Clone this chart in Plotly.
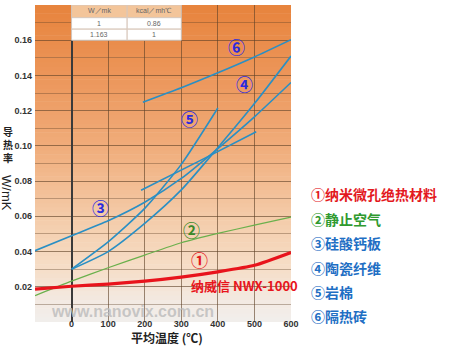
import numpy as np
import plotly.graph_objects as go

# ---------------- data ----------------
temps = [-100, 0, 100, 200, 300, 400, 500, 600]
nano_k = [0.0187, 0.0203, 0.0215, 0.0232, 0.0255, 0.0285, 0.0322, 0.0395]
air_k = [0.0150, 0.0232, 0.0308, 0.0380, 0.0450, 0.0503, 0.0550, 0.0596]
calsil_k = [0.0405, 0.0490, 0.0575, 0.0680, 0.0815, 0.0985, 0.1165, 0.1360]

cer_a_t = [0, 100, 200, 300, 400, 500, 600]
cer_a_k = [0.0300, 0.0400, 0.0560, 0.0750, 0.0990, 0.1240, 0.1510]
cer_b_t = [190, 350, 505]
cer_b_k = [0.0748, 0.0915, 0.1080]

rock_t = [0, 100, 200, 300, 400]
rock_k = [0.0300, 0.0455, 0.0645, 0.0895, 0.1215]

brick_t = [195, 300, 400, 500, 600]
brick_k = [0.1248, 0.1330, 0.1415, 0.1505, 0.1603]

x_ticks = [0, 100, 200, 300, 400, 500, 600]
y_ticks = [0.02, 0.04, 0.06, 0.08, 0.10, 0.12, 0.14, 0.16]

legend_items = ["①纳米微孔绝热材料", "②静止空气", "③硅酸钙板", "④陶瓷纤维", "⑤岩棉", "⑥隔热砖"]
legend_colors = ["#e3191e", "#2f9a2f", "#1f6fc4", "#1f6fc4", "#1f6fc4", "#1f6fc4"]

table_header = ["W／mk", "kcal／mh℃"]
table_rows = [["1", "0.86"], ["1.163", "1"]]

y_title_cn = "导<br>热<br>率"
y_title_unit = "W/mK"
x_title = "平均温度 (℃)"

CJK = "Noto Sans CJK SC"
LAT = "Liberation Sans"
BLUE = "#2a8fc4"
LBL = "#2a2ae0"

fig = go.Figure()

# --------- gradient background (style) ---------
stops_y = [0.0, 0.011, 0.03, 0.06, 0.10, 0.14, 0.18]
stops_c = np.array([[241, 238, 236], [243, 234, 227], [246, 222, 200], [244, 203, 168],
                    [240, 172, 122], [236, 150, 90], [231, 131, 60]], dtype=float)
shapes = []
n = 72
for i in range(n):
    y0 = 0.18 * i / n
    y1 = 0.18 * (i + 1) / n
    ym = (y0 + y1) / 2
    c = [np.interp(ym, stops_y, stops_c[:, k]) for k in range(3)]
    shapes.append(dict(type="rect", xref="x", yref="y", x0=-100, x1=600, y0=y0, y1=y1 + 0.0003,
                       fillcolor="rgb(%d,%d,%d)" % tuple(int(round(v)) for v in c),
                       line=dict(width=0), layer="below"))

# --------- table (top) ---------
tx = [0, 152, 300]
ty = [0.18, 0.1728, 0.1663, 0.16]
for r in range(3):
    for cidx in range(2):
        shapes.append(dict(type="rect", xref="x", yref="y", x0=tx[cidx], x1=tx[cidx + 1],
                           y0=ty[r + 1], y1=ty[r],
                           fillcolor="#f3c59a" if r == 0 else "#ffffff",
                           line=dict(color="#d8c8bc", width=1), layer="above"))

annotations = []
cells = [table_header] + table_rows
for r in range(3):
    for cidx in range(2):
        annotations.append(dict(x=(tx[cidx] + tx[cidx + 1]) / 2, y=(ty[r] + ty[r + 1]) / 2,
                                xref="x", yref="y", text=cells[r][cidx], showarrow=False,
                                xanchor="center", yanchor="middle",
                                font=dict(family=LAT, size=7, color="#666666")))

# --------- curves ---------
fig.add_trace(go.Scatter(x=temps, y=air_k, mode="lines", line=dict(color="#6ab04c", width=1.2, shape="spline", smoothing=0.6)))
fig.add_trace(go.Scatter(x=temps, y=calsil_k, mode="lines", line=dict(color=BLUE, width=1.6, shape="spline", smoothing=0.6)))
fig.add_trace(go.Scatter(x=cer_a_t, y=cer_a_k, mode="lines", line=dict(color=BLUE, width=1.6, shape="spline", smoothing=0.6)))
fig.add_trace(go.Scatter(x=cer_b_t, y=cer_b_k, mode="lines", line=dict(color=BLUE, width=1.6, shape="spline", smoothing=0.6)))
fig.add_trace(go.Scatter(x=rock_t, y=rock_k, mode="lines", line=dict(color=BLUE, width=1.6, shape="spline", smoothing=0.6)))
fig.add_trace(go.Scatter(x=brick_t, y=brick_k, mode="lines", line=dict(color=BLUE, width=1.6, shape="spline", smoothing=0.6)))
fig.add_trace(go.Scatter(x=temps, y=nano_k, mode="lines", line=dict(color="#e8141c", width=3.2, shape="spline", smoothing=0.6)))

# --------- in-plot labels ---------
def lab(x, y, t, color, size=17, fam=CJK):
    annotations.append(dict(x=x, y=y, xref="x", yref="y", text="<b>" + t + "</b>", showarrow=False,
                            xanchor="center", yanchor="middle",
                            font=dict(family=fam, size=size, color=color)))

lab(349, 0.0355, "①", "#e3191e")
lab(327, 0.0525, "②", "#3a8a2a")
lab(79, 0.0650, "③", LBL)
lab(474, 0.1355, "④", LBL)
lab(322, 0.1155, "⑤", LBL)
lab(450, 0.1565, "⑥", LBL)
annotations.append(dict(x=474, y=0.0205, xref="x", yref="y", text="<b>纳威信 NWX-1000</b>", showarrow=False,
                        xanchor="center", yanchor="middle",
                        font=dict(family=CJK, size=13, color="#e8141c")))
annotations.append(dict(x=166, y=0.0060, xref="x", yref="y", text="<b>www.nanovix.com.cn</b>",
                        showarrow=False, xanchor="center", yanchor="middle",
                        font=dict(family=LAT, size=16, color="rgba(190,190,190,0.85)")))

# --------- legend texts on the right ---------
leg_py = [194, 219, 243, 268, 292, 316]
for t, c, py in zip(legend_items, legend_colors, leg_py):
    annotations.append(dict(x=(309 - 35) / 256, y=(322 - py) / 317, xref="paper", yref="paper",
                            xanchor="left", yanchor="middle", text="<b>" + t + "</b>", showarrow=False,
                            font=dict(family=CJK, size=14, color=c)))

# --------- axis titles ---------
annotations.append(dict(x=(167 - 35) / 256, y=(322 - 338) / 317, xref="paper", yref="paper",
                        xanchor="center", yanchor="middle",
                        text="<b>" + x_title + "</b>", showarrow=False,
                        font=dict(family=CJK, size=12, color="#222222")))
annotations.append(dict(x=(8 - 35) / 256, y=(322 - 144) / 317, xref="paper", yref="paper",
                        xanchor="center", yanchor="middle",
                        text="<b>" + y_title_cn + "</b>", showarrow=False,
                        font=dict(family=CJK, size=10, color="#222222")))
annotations.append(dict(x=(7 - 35) / 256, y=(322 - 193) / 317, xref="paper", yref="paper",
                        xanchor="center", yanchor="middle",
                        text=y_title_unit, textangle=90, showarrow=False,
                        font=dict(family=LAT, size=13, color="#222222")))

grid_c = "rgba(95,65,40,0.38)"
fig.update_layout(
    width=450, height=346,
    margin=dict(l=35, r=159, t=5, b=24),
    paper_bgcolor="white", plot_bgcolor="rgba(0,0,0,0)",
    showlegend=False,
    shapes=shapes, annotations=annotations,
    xaxis=dict(range=[-100, 600], tickvals=x_ticks, ticktext=[str(v) for v in x_ticks],
               showgrid=True, gridcolor=grid_c, gridwidth=1,
               minor=dict(dtick=100, tick0=-100, showgrid=True, gridcolor=grid_c),
               zeroline=True, zerolinecolor="#3a3a3a", zerolinewidth=1.6,
               ticks="", ticklabelstandoff=-5,
               tickfont=dict(family=LAT, size=9, color="#333333", weight="bold"),
               showline=False, fixedrange=True),
    yaxis=dict(range=[0, 0.18], tickvals=y_ticks, ticktext=["%.2f" % v for v in y_ticks],
               showgrid=True, gridcolor=grid_c, gridwidth=1,
               minor=dict(dtick=0.01, tick0=0, showgrid=True, gridcolor=grid_c),
               zeroline=False, ticks="", ticklabelstandoff=2,
               tickfont=dict(family=LAT, size=9, color="#333333", weight="bold"),
               showline=False, fixedrange=True),
)

fig.write_html("out.html")
